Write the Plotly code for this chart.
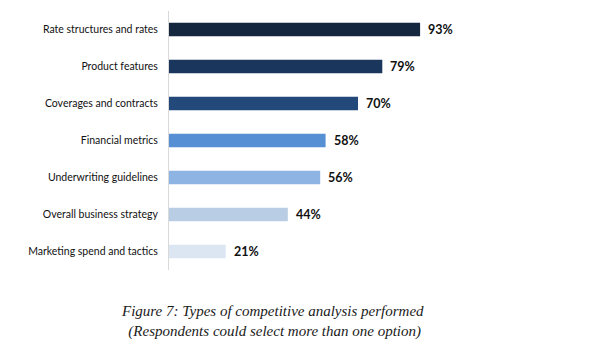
import plotly.graph_objects as go

categories = ["Rate structures and rates", "Product features", "Coverages and contracts",
              "Financial metrics", "Underwriting guidelines", "Overall business strategy",
              "Marketing spend and tactics"]
values = [93, 79, 70, 58, 56, 44, 21]
colors = ["#14273F", "#1B365D", "#22497A", "#568FD4", "#8EB4E3", "#B9CDE5", "#DCE6F2"]
caption_lines = ["Figure 7: Types of competitive analysis performed",
                 "(Respondents could select more than one option)"]

fig = go.Figure()
fig.add_trace(go.Bar(
    x=values, y=categories, orientation="h",
    marker=dict(color=colors, line=dict(width=0)),
    width=0.37,
    hoverinfo="x+y",
))

annotations = [dict(
    x=v, y=c, xref="x", yref="y", text=f"<b>{v}%</b>", showarrow=False,
    xanchor="left", yanchor="middle", xshift=6,
    font=dict(family="Lato", size=12.5, color="#111111"),
) for c, v in zip(categories, values)]

annotations.append(dict(
    text="<i>" + caption_lines[0] + "<br> " + caption_lines[1] + "</i>",
    xref="paper", yref="paper", x=0.385, y=-0.12, xanchor="center", yanchor="top",
    showarrow=False, align="center",
    font=dict(family="Liberation Serif", size=15, color="#1a1a1a"),
))

fig.update_layout(
    width=593, height=344,
    margin=dict(l=169, r=154, t=11, b=74),
    paper_bgcolor="white", plot_bgcolor="white",
    showlegend=False,
    xaxis=dict(range=[0, 100], visible=False),
    yaxis=dict(categoryorder="array", categoryarray=categories[::-1],
               showline=True, linecolor="#D9D9D9", linewidth=1,
               ticks="", showgrid=False, ticklabelstandoff=8,
               tickfont=dict(family="Lato", size=10.5, color="#111111")),
    annotations=annotations,
)

fig.write_html("out.html")
